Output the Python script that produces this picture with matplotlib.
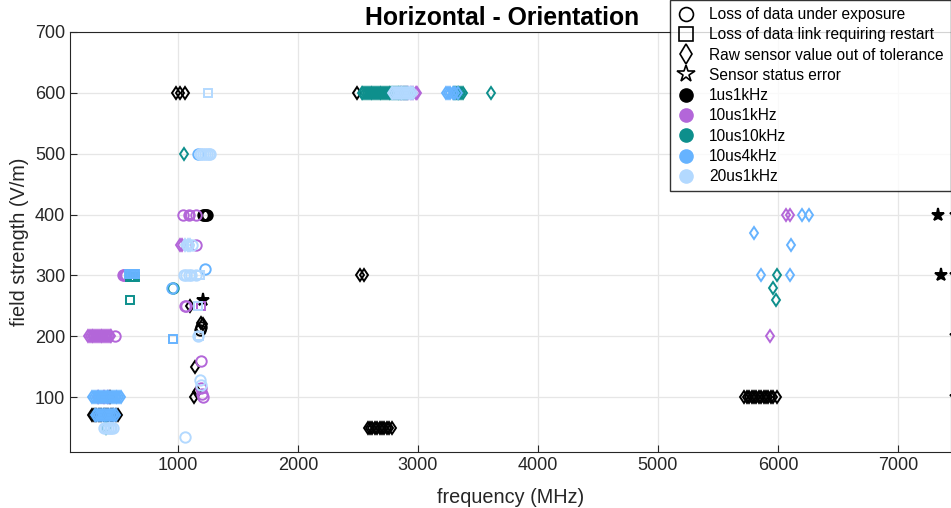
import matplotlib
matplotlib.use('Agg')
import matplotlib.pyplot as plt
from matplotlib.lines import Line2D

plt.rcParams['font.family'] = ['Liberation Sans', 'DejaVu Sans']

# series colours
series_names = ['1us1kHz', '10us1kHz', '10us10kHz', '10us4kHz', '20us1kHz']
series_colors = ['#000000', '#b366d9', '#0d8f8c', '#66b3ff', '#b3d9ff']

fault_names = ['Loss of data under exposure', 'Loss of data link requiring restart',
               'Raw sensor value out of tolerance', 'Sensor status error']
fault_markers = ['o', 's', 'd', '*']

# ---- 1us1kHz ----
s1_circle_f = [1205, 1215, 1225, 1235, 1245, 1185, 1195]
s1_circle_v = [400, 400, 400, 400, 400, 210, 215]
s1_square_f = []
s1_square_v = []
s1_diamond_f = [985, 1020, 1055, 2490, 2520, 2550, 1100, 1190, 1210, 1140, 1160, 1130, 430,
                2580, 2600, 2620, 2640, 2660, 2680, 2700, 2720, 2740, 2760, 2780,
                5720, 5740, 5760, 5780, 5800, 5820, 5840, 5860, 5880, 5900, 5920, 5940, 5960, 5990,
                285, 300, 320, 340, 360, 380, 400, 420, 440, 460, 480, 500]
s1_diamond_v = [600, 600, 600, 600, 300, 300, 250, 222, 220, 150, 108, 100, 100,
                50, 50, 50, 50, 50, 50, 50, 50, 50, 50, 50,
                100, 100, 100, 100, 100, 100, 100, 100, 100, 100, 100, 100, 100, 100,
                70, 70, 70, 70, 70, 70, 70, 70, 70, 70, 70, 70]
s1_star_f = [1210, 7335, 7360, 7480, 7480, 7480, 7480]
s1_star_v = [260, 400, 300, 400, 300, 200, 100]

# ---- 10us1kHz ----
s2_circle_f = [1040, 1090, 1150, 1150, 540, 550, 560, 570, 1060, 1070, 475, 1190, 1190, 1200, 1210,
               360, 410]
s2_circle_v = [400, 400, 400, 350, 300, 300, 300, 300, 250, 250, 200, 160, 115, 105, 100,
               100, 100]
s2_square_f = [1100, 1190]
s2_square_v = [400, 250]
s2_diamond_f = [2860, 2880, 2900, 2920, 2940, 2960, 2980, 2995, 6070, 6100, 1020, 1035,
                250, 265, 280, 295, 310, 325, 340, 355, 370, 385, 400, 415, 430, 445,
                5930, 330, 380, 420]
s2_diamond_v = [600, 600, 600, 600, 600, 600, 600, 600, 400, 400, 350, 350,
                200, 200, 200, 200, 200, 200, 200, 200, 200, 200, 200, 200, 200, 200,
                200, 100, 100, 100]
s2_star_f = []
s2_star_v = []

# ---- 10us10kHz ----
s3_circle_f = [960]
s3_circle_v = [280]
s3_square_f = [600, 615, 630, 645, 600]
s3_square_v = [298, 298, 298, 298, 260]
s3_diamond_f = [2530, 2545, 2560, 2575, 2590, 2605, 2620, 2635, 2650, 2665, 2680, 2695, 2710,
                2725, 2740, 2755, 2770, 2785, 2800, 2815, 2830, 2845, 2860, 2875, 2890, 2905,
                3300, 3315, 3330, 3345, 3360, 3375, 3610, 1050, 5990, 5960, 5980, 400]
s3_diamond_v = [600, 600, 600, 600, 600, 600, 600, 600, 600, 600, 600, 600, 600,
                600, 600, 600, 600, 600, 600, 600, 600, 600, 600, 600, 600, 600,
                600, 600, 600, 600, 600, 600, 600, 500, 300, 280, 260, 50]
s3_star_f = []
s3_star_v = []

# ---- 10us4kHz ----
s4_circle_f = [1165, 1225, 950]
s4_circle_v = [500, 310, 280]
s4_square_f = [590, 605, 620, 635, 645, 960]
s4_square_v = [302, 302, 302, 302, 302, 195]
s4_diamond_f = [3230, 3250, 3270, 3290, 3310, 3330, 6200, 6260, 5800, 6110, 5860, 6100,
                285, 300, 315, 330, 345, 360, 375, 390, 405, 420, 435, 450, 465, 480, 495, 510, 525,
                305, 320, 335, 350, 365, 380, 395, 410, 425, 440, 455, 470, 485]
s4_diamond_v = [600, 600, 600, 600, 600, 600, 400, 400, 370, 350, 300, 300,
                100, 100, 100, 100, 100, 100, 100, 100, 100, 100, 100, 100, 100, 100, 100, 100, 100,
                70, 70, 70, 70, 70, 70, 70, 70, 70, 70, 70, 70, 70]
s4_star_f = []
s4_star_v = []

# ---- 20us1kHz ----
s5_circle_f = [1180, 1195, 1210, 1225, 1240, 1255, 1270, 1080, 1120, 1050, 1070, 1090, 1110, 1150,
               1180, 1190, 1170, 1060, 385, 400, 415, 430, 445, 460]
s5_circle_v = [500, 500, 500, 500, 500, 500, 500, 350, 350, 300, 300, 300, 300, 300,
               128, 120, 200, 35, 50, 50, 50, 50, 50, 50]
s5_square_f = [1250, 1180, 1170, 1175]
s5_square_v = [600, 300, 250, 200]
s5_diamond_f = [2780, 2795, 2810, 2825, 2840, 2855, 2870, 2885, 2900, 2915, 2930, 2945, 2960,
                1060, 1080, 1100]
s5_diamond_v = [600, 600, 600, 600, 600, 600, 600, 600, 600, 600, 600, 600, 600,
                350, 350, 350]
s5_star_f = []
s5_star_v = []

series_data = [
    [(s1_circle_f, s1_circle_v), (s1_square_f, s1_square_v), (s1_diamond_f, s1_diamond_v), (s1_star_f, s1_star_v)],
    [(s2_circle_f, s2_circle_v), (s2_square_f, s2_square_v), (s2_diamond_f, s2_diamond_v), (s2_star_f, s2_star_v)],
    [(s3_circle_f, s3_circle_v), (s3_square_f, s3_square_v), (s3_diamond_f, s3_diamond_v), (s3_star_f, s3_star_v)],
    [(s4_circle_f, s4_circle_v), (s4_square_f, s4_square_v), (s4_diamond_f, s4_diamond_v), (s4_star_f, s4_star_v)],
    [(s5_circle_f, s5_circle_v), (s5_square_f, s5_square_v), (s5_diamond_f, s5_diamond_v), (s5_star_f, s5_star_v)],
]

x_ticks = [1000, 2000, 3000, 4000, 5000, 6000, 7000]
y_ticks = [100, 200, 300, 400, 500, 600, 700]


fig = plt.figure(figsize=(9.51, 5.08), dpi=100)
ax = fig.add_axes([70 / 951, 56 / 508, 1 - 70 / 951, 420 / 508])

marker_sizes = {'o': 7.5, 's': 5.5, 'd': 6, '*': 9.5}
for color, groups in zip(series_colors, series_data):
    for marker, (f, v) in zip(fault_markers, groups):
        if not f:
            continue
        face = color if marker == '*' else 'none'
        ax.plot(f, v, linestyle='none', marker=marker, markersize=marker_sizes[marker],
                markerfacecolor=face, markeredgecolor=color, markeredgewidth=1.4)

ax.set_xlim(100, 7442)
ax.set_ylim(10, 700)
ax.set_xticks(x_ticks)
ax.set_yticks(y_ticks)
ax.tick_params(direction='in', labelsize=13, length=5, colors='#262626', width=0.8)
ax.grid(True, color='#e6e6e6', linewidth=0.9)
ax.set_axisbelow(True)
for sp in ax.spines.values():
    sp.set_color('#262626')
    sp.set_linewidth(0.8)
ax.set_xlabel('frequency (MHz)', fontsize=14.3, color='#262626', labelpad=10)
ax.set_ylabel('field strength (V/m)', fontsize=14.3, color='#262626')

fig.text(502 / 951, 1 - 18 / 508, 'Horizontal - Orientation', ha='center', va='center',
         fontsize=17.8, fontweight='bold')

handles = []
for name, m in zip(fault_names, fault_markers):
    handles.append(Line2D([], [], linestyle='none', marker=m, markersize=13 if m == '*' else 10,
                          markerfacecolor='none', markeredgecolor='black', markeredgewidth=1.2, label=name))
for name, c in zip(series_names, series_colors):
    handles.append(Line2D([], [], linestyle='none', marker='o', markersize=9.5,
                          markerfacecolor=c, markeredgecolor=c, label=name))
leg = fig.legend(handles=handles, loc='upper right', bbox_to_anchor=(1.0, 1.0),
                 fontsize=11.2, frameon=True, fancybox=False, edgecolor='black',
                 labelspacing=0.34, handletextpad=0.9, borderpad=0.45, handlelength=1.15,
                 borderaxespad=0)
leg.get_frame().set_linewidth(1.0)

fig.savefig('out.png', dpi=100)
